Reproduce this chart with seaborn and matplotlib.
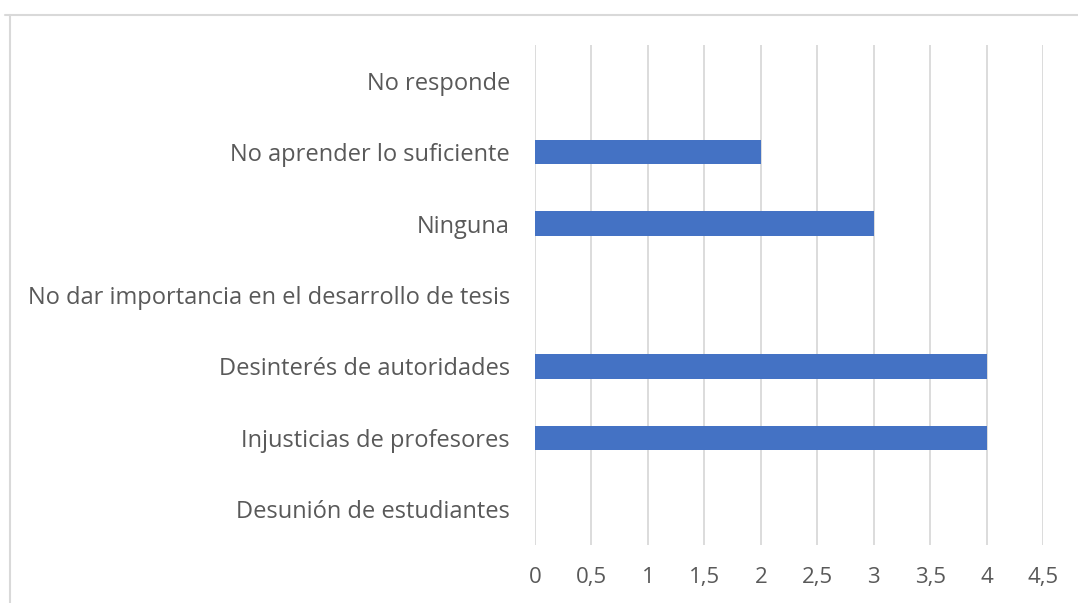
import matplotlib
matplotlib.use("Agg")
import matplotlib.pyplot as plt
import matplotlib.lines as mlines
from matplotlib.ticker import FuncFormatter
import pandas as pd
import seaborn as sns

# data (top to bottom)
categorias = ['No responde', 'No aprender lo suficiente', 'Ninguna',
              'No dar importancia en el desarrollo de tesis',
              'Desinterés de autoridades', 'Injusticias de profesores',
              'Desunión de estudiantes']
valores = [0, 2, 3, 0, 4, 4, 0]
xticks = [0, 0.5, 1, 1.5, 2, 2.5, 3, 3.5, 4, 4.5]

df = pd.DataFrame({'categoria': categorias, 'valor': valores})

sns.set_style('white')
plt.rcParams['font.family'] = ['Open Sans', 'DejaVu Sans']

fig = plt.figure(figsize=(10.78, 6.03), dpi=100)
ax = fig.add_axes([0.4963, 0.0962, 0.4712, 0.8292])

sns.barplot(data=df, y='categoria', x='valor', orient='h', color='#4472C4',
            saturation=1, width=0.34, linewidth=0, ax=ax)

ax.set_xlim(0, 4.5)
ax.set_ylim(6.5, -0.5)
ax.set_xticks(xticks)
ax.xaxis.set_major_formatter(FuncFormatter(lambda v, p: f'{v:g}'.replace('.', ',')))
ax.grid(axis='x', color='#d9d9d9', linewidth=1.3)
ax.set_axisbelow(True)
for s in ax.spines.values():
    s.set_visible(False)
ax.set_xlabel('')
ax.set_ylabel('')
ax.tick_params(axis='both', length=0, colors='#595959')
ax.tick_params(axis='y', pad=18, labelsize=17)
ax.tick_params(axis='x', pad=16, labelsize=16)

# chart border (only top and left visible in the crop)
fig.add_artist(mlines.Line2D([5 / 1078, 1], [1 - 15 / 603, 1 - 15 / 603],
                             color='#d9d9d9', linewidth=1.5, transform=fig.transFigure))
fig.add_artist(mlines.Line2D([10 / 1078, 10 / 1078], [0, 1 - 15 / 603],
                             color='#d9d9d9', linewidth=1.5, transform=fig.transFigure))

fig.savefig('out.png', dpi=100)
